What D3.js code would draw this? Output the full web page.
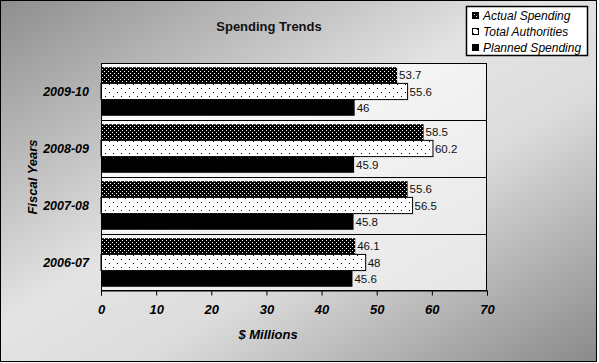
<!DOCTYPE html>
<html lang="en">
<head>
<meta charset="UTF-8">
<title>Spending Trends</title>
<script src="https://cdn.jsdelivr.net/npm/d3@7"></script>
<style>
  body { margin: 0; background: #fff; }
  svg { display: block; font-family: "Liberation Sans", Arial, sans-serif; }
</style>
</head>
<body>
<div id="chart"></div>
<script>
// data (top to bottom)
const years = ["2009-10", "2008-09", "2007-08", "2006-07"];
const series = ["Actual Spending", "Total Authorities", "Planned Spending"];
const actual = [53.7, 58.5, 55.6, 46.1];
const authorities = [55.6, 60.2, 56.5, 48];
const planned = [46, 45.9, 45.8, 45.6];
const xTicks = [0, 10, 20, 30, 40, 50, 60, 70];

const values = [actual, authorities, planned];
const rows = years.map((y, i) => ({
  year: y,
  vals: series.map((s, j) => ({ series: s, idx: j, v: values[j][i] }))
}));

const W = 599, H = 363;
const plot = { left: 101, right: 487, top: 63, bottom: 291 };

const svg = d3.select("#chart").append("svg")
  .attr("width", W).attr("height", H);

const defs = svg.append("defs");

// chart area background gradient
const bg = defs.append("linearGradient").attr("id", "bgGrad")
  .attr("x1", "0%").attr("y1", "0%").attr("x2", "100%").attr("y2", "100%");
bg.append("stop").attr("offset", "0%").attr("stop-color", "#8e8e8e");
bg.append("stop").attr("offset", "45%").attr("stop-color", "#e4e4e4");
bg.append("stop").attr("offset", "62%").attr("stop-color", "#dcdcdc");
bg.append("stop").attr("offset", "100%").attr("stop-color", "#8a8a8a");

const pg = defs.append("linearGradient").attr("id", "plotGrad")
  .attr("x1", "0%").attr("y1", "0%").attr("x2", "100%").attr("y2", "100%");
pg.append("stop").attr("offset", "0%").attr("stop-color", "#ffffff");
pg.append("stop").attr("offset", "100%").attr("stop-color", "#e6e6e6");

// fill patterns
const p1 = defs.append("pattern").attr("id", "patActual")
  .attr("patternUnits", "userSpaceOnUse").attr("width", 4).attr("height", 4);
p1.append("rect").attr("width", 4).attr("height", 4).attr("fill", "#000");
p1.append("rect").attr("x", 0).attr("y", 0).attr("width", 1).attr("height", 1).attr("fill", "#fff");
p1.append("rect").attr("x", 2).attr("y", 2).attr("width", 1).attr("height", 1).attr("fill", "#fff");

const p2 = defs.append("pattern").attr("id", "patTotal")
  .attr("patternUnits", "userSpaceOnUse").attr("width", 8).attr("height", 8);
p2.append("rect").attr("width", 8).attr("height", 8).attr("fill", "#fff");
p2.append("rect").attr("x", 1).attr("y", 1).attr("width", 1).attr("height", 1).attr("fill", "#000");
p2.append("rect").attr("x", 5).attr("y", 5).attr("width", 1).attr("height", 1).attr("fill", "#000");

const fills = ["url(#patActual)", "url(#patTotal)", "#000"];

svg.append("rect").attr("x", 0.5).attr("y", 0.5)
  .attr("width", W - 3).attr("height", H - 2)
  .attr("fill", "url(#bgGrad)").attr("stroke", "#000");

// scales
const x = d3.scaleLinear().domain([0, 70]).range([plot.left, plot.right]);
const y = d3.scaleBand().domain(years).range([plot.top, plot.bottom]);
const yInner = d3.scaleBand().domain(series)
  .range([0, y.bandwidth()]).paddingOuter(0.26).paddingInner(0);

svg.append("rect")
  .attr("x", plot.left).attr("y", plot.top)
  .attr("width", plot.right - plot.left).attr("height", plot.bottom - plot.top)
  .attr("fill", "url(#plotGrad)");

// category separators
svg.append("g").selectAll("line").data(years.slice(1)).join("line")
  .attr("x1", plot.left).attr("x2", plot.right)
  .attr("y1", d => Math.round(y(d)) + 0.5).attr("y2", d => Math.round(y(d)) + 0.5)
  .attr("stroke", "#000");

// bars
const grp = svg.append("g").selectAll("g").data(rows).join("g")
  .attr("transform", d => `translate(0,${y(d.year)})`);

grp.selectAll("rect").data(d => d.vals).join("rect")
  .attr("x", x(0))
  .attr("y", d => yInner(d.series))
  .attr("width", d => x(d.v) - x(0))
  .attr("height", yInner.bandwidth())
  .attr("fill", d => fills[d.idx])
  .attr("stroke", d => d.idx === 1 ? "#000" : "none")
  .attr("stroke-width", 1);

grp.selectAll("text").data(d => d.vals).join("text")
  .attr("x", d => x(d.v) + 2)
  .attr("y", d => yInner(d.series) + yInner.bandwidth() / 2)
  .attr("dy", "0.36em")
  .attr("font-size", 11.5)
  .attr("fill", "#111")
  .text(d => d.v);

// plot frame
svg.append("rect")
  .attr("x", plot.left + 0.5).attr("y", plot.top + 0.5)
  .attr("width", plot.right - plot.left - 1).attr("height", plot.bottom - plot.top - 1)
  .attr("fill", "none").attr("stroke", "#000");

// x axis
const xAxis = svg.append("g")
  .attr("transform", `translate(0,${plot.bottom - 0.5})`)
  .call(d3.axisBottom(x).tickValues(xTicks).tickSize(5).tickPadding(9));
xAxis.select(".domain").attr("stroke", "#000");
xAxis.selectAll("line").attr("stroke", "#000");
xAxis.selectAll("text")
  .attr("font-family", "'Liberation Sans', Arial, sans-serif")
  .attr("font-size", 13).attr("font-weight", "bold").attr("font-style", "italic")
  .attr("fill", "#000");

// y category labels
svg.append("g").selectAll("text").data(years).join("text")
  .attr("x", 89)
  .attr("y", d => y(d) + y.bandwidth() / 2)
  .attr("dy", "0.36em")
  .attr("text-anchor", "end")
  .attr("font-size", 12.5).attr("font-weight", "bold").attr("font-style", "italic")
  .text(d => d);

// titles
svg.append("text").attr("x", 269).attr("y", 31)
  .attr("text-anchor", "middle")
  .attr("font-size", 13).attr("font-weight", "bold")
  .attr("fill", "#111")
  .text("Spending Trends");

svg.append("text").attr("x", 268).attr("y", 339)
  .attr("text-anchor", "middle")
  .attr("font-size", 13).attr("font-weight", "bold").attr("font-style", "italic")
  .text("$ Millions");

svg.append("text")
  .attr("transform", "translate(37,177) rotate(-90)")
  .attr("text-anchor", "middle")
  .attr("font-size", 13).attr("font-weight", "bold").attr("font-style", "italic")
  .text("Fiscal Years");

// legend
const lg = svg.append("g");
lg.append("rect").attr("x", 466.5).attr("y", 6.5).attr("width", 121).attr("height", 49)
  .attr("fill", "#fff").attr("stroke", "#000").attr("stroke-width", 1.5);
const li = lg.selectAll("g").data(series).join("g")
  .attr("transform", (d, i) => `translate(472,${16 + i * 16})`);
li.append("rect").attr("x", 0.5).attr("y", -3.5).attr("width", 6).attr("height", 6)
  .attr("fill", (d, i) => fills[i]).attr("stroke", "#000");
li.append("text").attr("x", 11).attr("y", 0).attr("dy", "0.36em")
  .attr("font-size", 12).attr("font-style", "italic")
  .text(d => d);
</script>
</body>
</html>
